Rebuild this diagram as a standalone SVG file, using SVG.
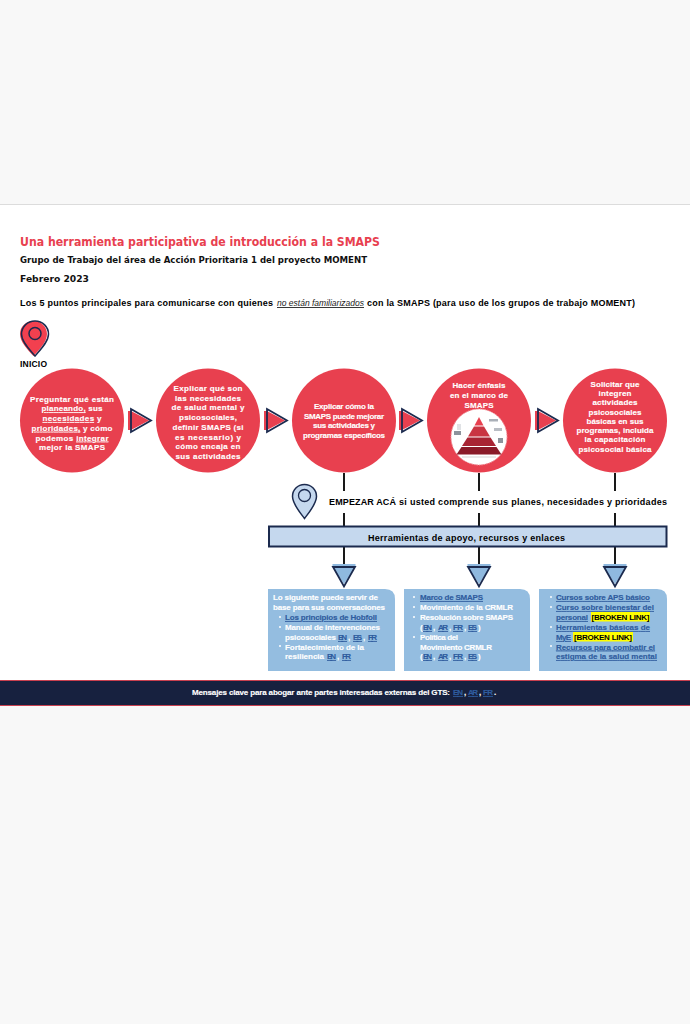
<svg xmlns="http://www.w3.org/2000/svg" width="690" height="1024" viewBox="0 0 690 1024">
<style>
text{font-family:"Liberation Sans",Arial,sans-serif;font-weight:700}
.dv{font-family:"DejaVu Sans",Verdana,sans-serif}
.c{fill:#fff;stroke:#fff;stroke-width:.15;font-size:8px;text-anchor:middle}
.w{fill:#fff;stroke:#fff;stroke-width:.15;font-size:8px}
.l{fill:#2f5c9e;stroke:#2f5c9e;stroke-width:.15;font-size:8px;text-decoration:underline}
.b{fill:#000;font-size:8px}
.u{text-decoration:underline}
.circ{fill:#e8404f}
.tri{fill:none;stroke:#1b2a4e;stroke-width:1.8}
.box{fill:#94bde0}
.conn{stroke:#000;stroke-width:1.8;fill:none}
.ylw{fill:#ffff00}
</style>
<defs>
<g id="arrow"><path d="M-3 -9.500H0L18 0 0 9.500H-3Z" fill="#e8404f"/><path d="M0 -11.500 20 0 0 11.500Z" class="tri"/></g>
<g id="down"><path d="M-11.500 -3H11.500V0L0 17-11.500 0Z" fill="#8fb9df"/><path d="M-11 0H11L0 19.500Z" class="tri"/></g>
</defs>
<rect width="690" height="1024" fill="#f8f8f8"/>
<rect x="0" y="204" width="690" height="502" fill="#fff"/>
<rect x="0" y="204" width="690" height="1" fill="#dcdcdc"/>
<g id="header">
<text x="20" y="245.500" class="dv" font-size="12" fill="#e8404f" textLength="360" lengthAdjust="spacingAndGlyphs">Una herramienta participativa de introducción a la SMAPS</text>
<text x="20" y="262.500" class="dv" font-size="8.800" fill="#111" textLength="347" lengthAdjust="spacingAndGlyphs">Grupo de Trabajo del área de Acción Prioritaria 1 del proyecto MOMENT</text>
<text x="20" y="281.500" class="dv" font-size="9" fill="#111" textLength="69" lengthAdjust="spacingAndGlyphs">Febrero 2023</text>
<text x="20" y="306" font-size="9" fill="#000" textLength="253" lengthAdjust="spacing">Los 5 puntos principales para comunicarse con quienes</text>
<text x="277" y="306" font-size="9" fill="#222" style="font-weight:400;font-style:italic;text-decoration:underline" textLength="87" lengthAdjust="spacingAndGlyphs">no están familiarizados</text>
<text x="367" y="306" font-size="9" fill="#000" textLength="268" lengthAdjust="spacing">con la SMAPS (para uso de los grupos de trabajo MOMENT)</text>
</g>
<g id="connectors">
<path class="conn" d="M344 473V491M344 513V527M479 473V491M479 513V527M615 473V491M615 513V527M344 547V567M479 547V567M615 547V567"/>
<use href="#arrow" x="131" y="420.500"/>
<use href="#arrow" x="267" y="420.500"/>
<use href="#arrow" x="402" y="420.500"/>
<use href="#arrow" x="538" y="420.500"/>
<use href="#down" x="344" y="567"/>
<use href="#down" x="479" y="567"/>
<use href="#down" x="615" y="567"/>
</g>
<g id="inicio">
<path d="M33.500 321C25.500 321 20 327 20 334C20 342 28 350 33.500 356C39 350 47 342 47 334C47 327 41.500 321 33.500 321Z" fill="#f2404f"/>
<path d="M35 321C27.300 321 21.500 327 21.500 334C21.500 342 30 350 35 356C40 350 48.500 342 48.500 334C48.500 327 42.700 321 35 321Z" fill="none" stroke="#1b2a4e" stroke-width="1.500"/>
<circle cx="35" cy="333.500" r="6" fill="none" stroke="#1b2a4e" stroke-width="1.500"/>
<text x="20" y="366.500" font-size="8.500" fill="#000" textLength="27" lengthAdjust="spacing">INICIO</text>
</g>
<g id="node1">
<circle cx="72" cy="420.500" r="52" class="circ"/>
<text class="c" x="72" y="401.500" textLength="84">Preguntar qué están</text>
<text class="c" x="72" y="411.200" textLength="61"><tspan class="u">planeando,</tspan> sus</text>
<text class="c" x="72" y="421" textLength="59"><tspan class="u">necesidades</tspan> y</text>
<text class="c" x="72" y="430.700" textLength="81"><tspan class="u">prioridades,</tspan> y cómo</text>
<text class="c" x="72" y="440.500" textLength="73">podemos <tspan class="u">integrar</tspan></text>
<text class="c" x="72" y="450.200" textLength="66">mejor la SMAPS</text>
</g>
<g id="node2">
<circle cx="208" cy="420.500" r="52" class="circ"/>
<text class="c" x="208" y="391" textLength="69">Explicar qué son</text>
<text class="c" x="208" y="400.700" textLength="66">las necesidades</text>
<text class="c" x="208" y="410.400" textLength="73">de salud mental y</text>
<text class="c" x="208" y="420.100" textLength="58">psicosociales,</text>
<text class="c" x="208" y="429.800" textLength="71">definir SMAPS (si</text>
<text class="c" x="208" y="439.500" textLength="66">es necesario) y</text>
<text class="c" x="208" y="449.200" textLength="65">cómo encaja en</text>
<text class="c" x="208" y="458.900" textLength="65">sus actividades</text>
</g>
<g id="node3">
<circle cx="344" cy="420.500" r="52" class="circ"/>
<text class="c" x="344" y="409" textLength="60">Explicar cómo la</text>
<text class="c" x="344" y="418.700" textLength="80">SMAPS puede mejorar</text>
<text class="c" x="344" y="428.400" textLength="62">sus actividades y</text>
<text class="c" x="344" y="438.100" textLength="82">programas específicos</text>
</g>
<g id="node4">
<circle cx="479" cy="420.500" r="52" class="circ"/>
<text class="c" x="479" y="388" textLength="53">Hacer énfasis</text>
<text class="c" x="479" y="398" textLength="58">en el marco de</text>
<text class="c" x="479" y="408" textLength="29">SMAPS</text>
<circle cx="479" cy="437" r="28" fill="#fff" stroke="#f3a0a8" stroke-width="1" stroke-dasharray="1.500 1"/>
<path d="M479 417 483.500 425.500H474.500Z" fill="#e8404f"/>
<path d="M474 426.500H484L490 436.500H468Z" fill="#c93542"/>
<path d="M467.500 437.500H490.500L496 446H462Z" fill="#a82433"/>
<path d="M461.500 447H496.500L501.500 454.500H456.500Z" fill="#8a1a28"/>
<path d="M462 457H496" stroke="#d4d4d4" stroke-width="1"/>
<rect x="454" y="431" width="7" height="4" fill="#8d939c"/>
<rect x="457" y="424" width="4" height="6" fill="#e0e2e5"/>
<rect x="489" y="419" width="9" height="2.500" fill="#aab0b8"/>
<rect x="494" y="428" width="8" height="3" fill="#b9bdc4"/>
<rect x="498" y="438" width="5" height="5" fill="#8d939c"/>
</g>
<g id="node5">
<circle cx="615" cy="420.500" r="52" class="circ"/>
<text class="c" x="615" y="386.800" textLength="49">Solicitar que</text>
<text class="c" x="615" y="396" textLength="33">integren</text>
<text class="c" x="615" y="405.300" textLength="45">actividades</text>
<text class="c" x="615" y="414.500" textLength="53">psicosociales</text>
<text class="c" x="615" y="423.800" textLength="57">básicas en sus</text>
<text class="c" x="615" y="433" textLength="77">programas, incluida</text>
<text class="c" x="615" y="442.300" textLength="61">la capacitación</text>
<text class="c" x="615" y="451.500" textLength="73">psicosocial básica</text>
</g>
<g id="empezar">
<path d="M304.500 484.500C297.500 484.500 292.500 490 292.500 496.500C292.500 504 300 512.500 304.500 518.500C309 512.500 316.500 504 316.500 496.500C316.500 490 311.500 484.500 304.500 484.500Z" fill="#c5d8ee" stroke="#1b2a4e" stroke-width="1.500"/>
<circle cx="304.500" cy="495.500" r="6" fill="#c5d8ee" stroke="#1b2a4e" stroke-width="1.300"/>
<text x="329" y="505" font-size="9" fill="#000" textLength="67" lengthAdjust="spacing">EMPEZAR ACÁ</text>
<text x="399" y="505" font-size="9" fill="#000" textLength="268" lengthAdjust="spacing">si usted comprende sus planes, necesidades y prioridades</text>
</g>
<g id="bar">
<rect x="269" y="526.500" width="397.500" height="20" fill="#c5d8ee" stroke="#1b2a4e" stroke-width="2"/>
<text x="368" y="541" font-size="9" fill="#000" textLength="197" lengthAdjust="spacing">Herramientas de apoyo, recursos y enlaces</text>
</g>
<g id="box1">
<path class="box" d="M268 589H385Q395 589 395 599V671H268Z"/>
<text class="w" x="273" y="600" textLength="105">Lo siguiente puede servir de</text>
<text class="w" x="273" y="610" textLength="112">base para sus conversaciones</text>
<circle cx="280" cy="617" r="1" fill="#fff"/>
<text class="l" x="285" y="620" textLength="92">Los principios de Hobfoll</text>
<circle cx="280" cy="627" r="1" fill="#fff"/>
<text class="w" x="285" y="630" textLength="95">Manual de intervenciones</text>
<text class="w" x="285" y="640" textLength="51">psicosociales</text>
<text class="l" x="338" y="640" textLength="9">EN</text><text class="w" x="348" y="640">,</text>
<text class="l" x="353" y="640" textLength="9">ES</text><text class="w" x="363" y="640">,</text>
<text class="l" x="368" y="640" textLength="9">FR</text>
<circle cx="280" cy="646" r="1" fill="#fff"/>
<text class="w" x="285" y="649.500" textLength="79">Fortalecimiento de la</text>
<text class="w" x="285" y="659" textLength="39">resiliencia</text>
<text class="l" x="327" y="659" textLength="9">EN</text><text class="w" x="337" y="659">,</text>
<text class="l" x="342" y="659" textLength="9">FR</text>
</g>
<g id="box2">
<path class="box" d="M404 589H520Q530 589 530 599V671H404Z"/>
<circle cx="414" cy="597" r="1" fill="#fff"/>
<text class="l" x="420" y="600" textLength="63">Marco de SMAPS</text>
<circle cx="414" cy="607" r="1" fill="#fff"/>
<text class="w" x="420" y="610" textLength="93">Movimiento de la CRMLR</text>
<circle cx="414" cy="617" r="1" fill="#fff"/>
<text class="w" x="420" y="620" textLength="93">Resolución sobre SMAPS</text>
<text class="w" x="420" y="630">(</text><text class="l" x="423" y="630" textLength="9">EN</text><text class="w" x="433" y="630">,</text><text class="l" x="438" y="630" textLength="10">AR</text><text class="w" x="449" y="630">,</text><text class="l" x="453" y="630" textLength="10">FR</text><text class="w" x="464" y="630">,</text><text class="l" x="468" y="630" textLength="9">ES</text><text class="w" x="478" y="630">)</text>
<circle cx="414" cy="637" r="1" fill="#fff"/>
<text class="w" x="420" y="640" textLength="38">Política del</text>
<text class="w" x="420" y="649.500" textLength="72">Movimiento CRMLR</text>
<text class="w" x="420" y="659">(</text><text class="l" x="423" y="659" textLength="9">EN</text><text class="w" x="433" y="659">,</text><text class="l" x="438" y="659" textLength="10">AR</text><text class="w" x="449" y="659">,</text><text class="l" x="453" y="659" textLength="10">FR</text><text class="w" x="464" y="659">,</text><text class="l" x="468" y="659" textLength="9">ES</text><text class="w" x="478" y="659">)</text>
</g>
<g id="box3">
<path class="box" d="M539 589H657Q667 589 667 599V671H539Z"/>
<circle cx="551" cy="597" r="1" fill="#fff"/>
<text class="l" x="556" y="600" textLength="94">Cursos sobre APS básico</text>
<circle cx="551" cy="607" r="1" fill="#fff"/>
<text class="l" x="556" y="610" textLength="98">Curso sobre bienestar del</text>
<text class="l" x="556" y="620" textLength="32">personal</text>
<rect class="ylw" x="591" y="612" width="59" height="9.500"/>
<text class="b" x="591.500" y="620" textLength="58">[BROKEN LINK]</text>
<circle cx="551" cy="627" r="1" fill="#fff"/>
<text class="l" x="556" y="630" textLength="94">Herramientas básicas de</text>
<text class="l" x="556" y="640" textLength="15">MyE</text>
<rect class="ylw" x="573" y="632" width="60" height="9.500"/>
<text class="b" x="574" y="640" textLength="58">[BROKEN LINK]</text>
<circle cx="551" cy="646" r="1" fill="#fff"/>
<text class="l" x="556" y="649.500" textLength="99">Recursos para combatir el</text>
<text class="l" x="556" y="659" textLength="101">estigma de la salud mental</text>
</g>
<g id="footer">
<rect x="0" y="680" width="690" height="26" fill="#17213f"/>
<rect x="0" y="680" width="690" height="1" fill="#c9404f"/>
<rect x="0" y="705" width="690" height="1" fill="#c9404f"/>
<text class="w" x="192" y="695" textLength="258">Mensajes clave para abogar ante partes interesadas externas del GTS:</text>
<text class="l" x="453" y="695" textLength="10">EN</text><text class="w" x="464" y="695">,</text>
<text class="l" x="468" y="695" textLength="10">AR</text><text class="w" x="479" y="695">,</text>
<text class="l" x="483" y="695" textLength="10">FR</text><text class="w" x="494" y="695">.</text>
</g>
</svg>
